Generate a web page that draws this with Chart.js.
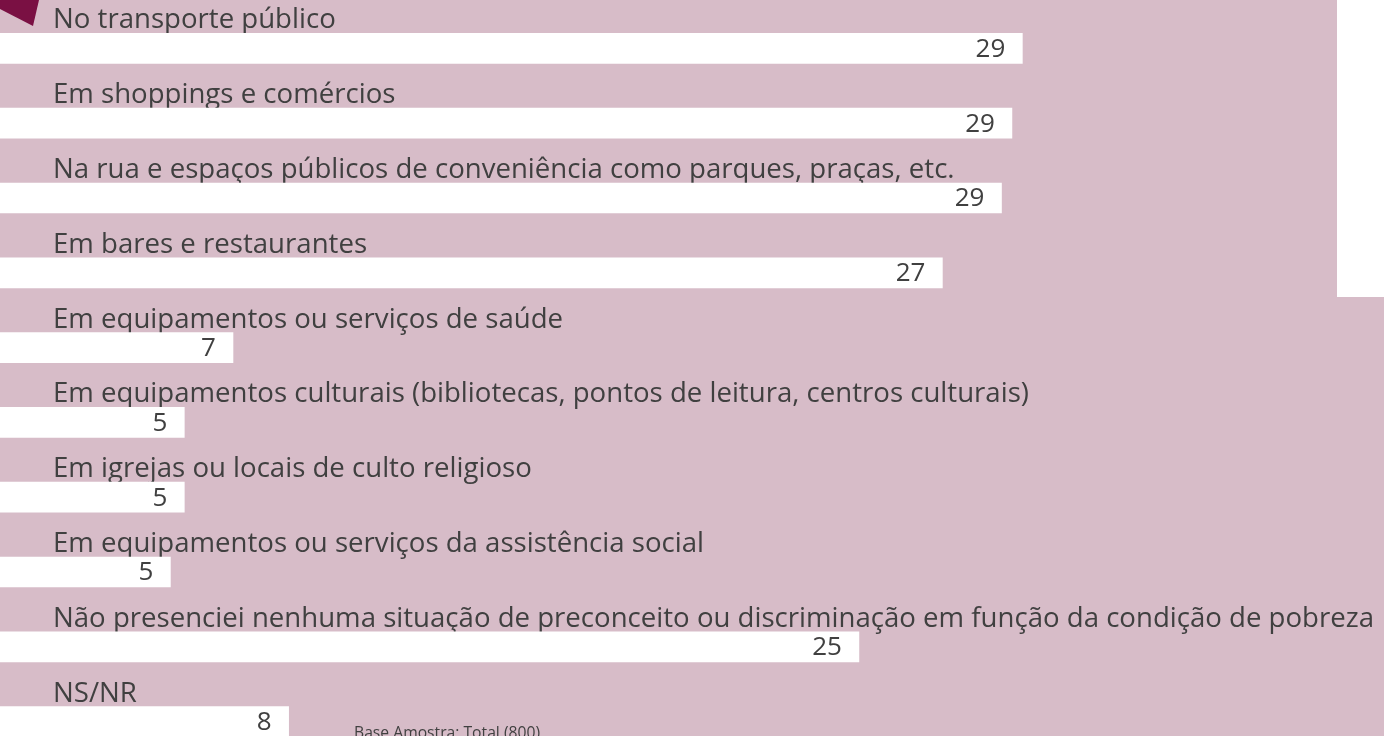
<!DOCTYPE html>
<html><head><meta charset="utf-8">
<script src="https://cdn.jsdelivr.net/npm/chart.js@4/dist/chart.umd.min.js"></script>
<style>html,body{margin:0;padding:0;overflow:hidden;background:#d7bcc8;}canvas{display:block;}</style>
</head><body>
<canvas id="c" width="1384" height="759"></canvas>
<script>
const categories = [
  "No transporte público",
  "Em shoppings e comércios",
  "Na rua e espaços públicos de conveniência como parques, praças, etc.",
  "Em bares e restaurantes",
  "Em equipamentos ou serviços de saúde",
  "Em equipamentos culturais (bibliotecas, pontos de leitura, centros culturais)",
  "Em igrejas ou locais de culto religioso",
  "Em equipamentos ou serviços da assistência social",
  "Não presenciei nenhuma situação de preconceito ou discriminação em função da condição de pobreza",
  "NS/NR"
];
const values = [29.4, 29.1, 28.8, 27.1, 6.7, 5.3, 5.3, 4.9, 24.7, 8.3];
const footnote = "Base Amostra: Total (800)";

const BG = '#d7bcc8', TXT = '#404040';

const decor = {
  id: 'decor',
  beforeDraw(chart) {
    const c = chart.ctx;
    c.save();
    c.fillStyle = BG;
    c.fillRect(0, 0, chart.width, chart.height);
    c.fillStyle = '#ffffff';
    c.fillRect(1337, 0, chart.width - 1337, 297);
    c.fillStyle = '#7a1043';
    c.beginPath();
    c.moveTo(0, 0); c.lineTo(39, 0); c.lineTo(33, 26); c.lineTo(0, 9);
    c.closePath(); c.fill();
    c.restore();
  },
  beforeDatasetsDraw(chart) {
    const c = chart.ctx;
    const meta = chart.getDatasetMeta(0);
    c.save();
    c.fillStyle = TXT;
    c.font = '27.6px "Open Sans"';
    c.textAlign = 'left';
    c.textBaseline = 'alphabetic';
    meta.data.forEach((bar, i) => {
      const top = bar.y - bar.height / 2;
      c.fillText(categories[i], 53, top - 5);
    });
    c.restore();
  },
  afterDatasetsDraw(chart) {
    const c = chart.ctx;
    const meta = chart.getDatasetMeta(0);
    c.save();
    c.fillStyle = TXT;
    c.font = '26px "Open Sans"';
    c.textAlign = 'right';
    c.textBaseline = 'middle';
    meta.data.forEach((bar, i) => {
      c.fillText(String(Math.round(values[i])), bar.x - 17, bar.y + 1);
    });
    c.font = '15.7px "Open Sans"';
    c.textAlign = 'left';
    c.textBaseline = 'alphabetic';
    c.fillText(footnote, 354, 738);
    c.restore();
  }
};

new Chart(document.getElementById('c'), {
  type: 'bar',
  data: {
    labels: categories,
    datasets: [{
      data: values,
      backgroundColor: '#ffffff',
      borderWidth: 0,
      barThickness: 30
    }]
  },
  options: {
    indexAxis: 'y',
    responsive: false,
    animation: false,
    devicePixelRatio: 1,
    layout: { padding: { top: 11, left: 0, right: 0, bottom: 0 } },
    plugins: { legend: { display: false }, tooltip: { enabled: false } },
    scales: {
      x: { display: false, min: 0, max: 39.8 },
      y: { display: false }
    }
  },
  plugins: [decor]
});
</script>
</body></html>
